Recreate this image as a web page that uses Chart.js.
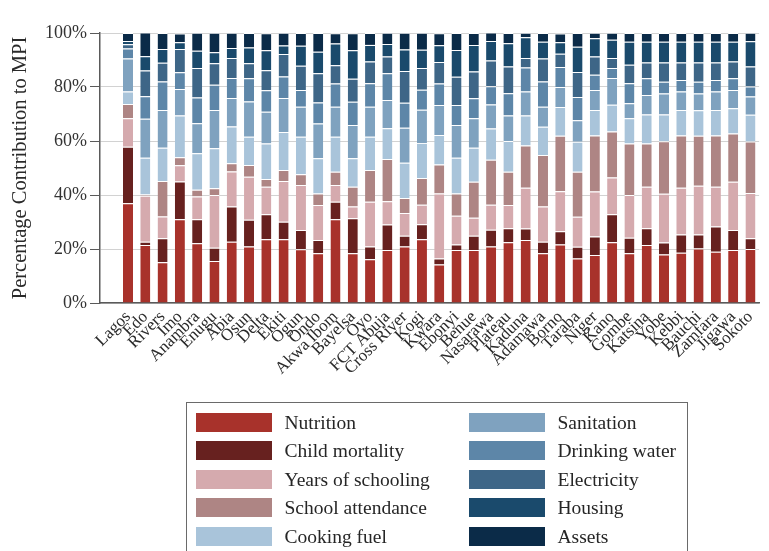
<!DOCTYPE html>
<html>
<head>
<meta charset="utf-8">
<script src="https://cdn.jsdelivr.net/npm/chart.js@4.4.1/dist/chart.umd.min.js"></script>
<style>
html,body{margin:0;padding:0;background:#fff;}
#wrap{position:relative;width:769px;height:551px;overflow:hidden;}
#c{position:absolute;left:0;top:0;}
#legend{position:absolute;left:186px;top:402px;width:502px;height:170px;border:1.5px solid #6a6a6a;box-sizing:border-box;font-family:"Liberation Serif",serif;font-size:19.5px;color:#262626;}
.item{position:absolute;height:19px;line-height:19px;white-space:nowrap;}
.sw{position:absolute;left:0;top:0;width:76px;height:19px;}
.lb{position:absolute;left:89px;top:0;}
</style>
</head>
<body>
<div id="wrap">
<canvas id="c" width="769" height="551"></canvas>
<div id="legend"></div>
</div>
<script>
const states = ["Lagos","Edo","Rivers","Imo","Anambra","Enugu","Abia","Osun","Delta","Ekiti","Ogun","Ondo","Akwa Ibom","Bayelsa","Oyo","FCT Abuja","Cross River","Kogi","Kwara","Ebonyi","Benue","Nasarawa","Plateau","Kaduna","Adamawa","Borno","Taraba","Niger","Kano","Gombe","Katsina","Yobe","Kebbi","Bauchi","Zamfara","Jigawa","Sokoto"];

const seriesNames = ["Nutrition","Child mortality","Years of schooling","School attendance","Cooking fuel","Sanitation","Drinking water","Electricity","Housing","Assets"];

const nutrition     = [36.9,21.5,15.1,31.0,22.1,15.6,22.7,20.9,23.6,23.6,19.9,18.4,31.0,18.4,16.2,19.6,20.9,23.6,14.3,19.6,19.6,20.9,22.5,23.3,18.4,21.7,16.5,17.8,22.5,18.4,21.5,18.0,18.6,20.2,19.0,19.6,20.0];
const childMortality= [21.0,1.2,8.9,14.0,8.9,4.9,13.0,9.9,9.3,6.5,7.1,4.9,6.5,13.0,4.7,9.5,4.0,5.6,2.2,2.1,5.3,6.2,5.2,4.3,4.3,4.9,4.3,6.8,10.4,5.8,6.2,4.4,6.8,5.2,9.3,7.4,4.0];
const yearsSchooling= [10.5,17.0,8.0,6.0,8.4,19.5,13.0,16.0,10.2,15.1,16.7,13.0,6.2,4.3,16.6,8.6,8.4,7.2,24.1,10.6,6.7,9.3,8.6,15.1,13.0,14.8,11.1,16.7,13.6,15.8,15.4,18.1,17.3,18.0,14.8,17.9,16.7];
const schoolAttend  = [5.3,0.5,13.2,3.0,2.5,2.5,3.1,4.3,2.8,4.1,4.0,4.3,4.9,7.4,11.8,15.6,5.6,9.9,10.7,8.3,13.3,16.7,12.3,15.6,19.1,20.5,16.7,20.7,17.0,19.1,16.0,19.4,19.3,18.5,18.9,17.9,19.1];
const cookingFuel   = [4.6,13.6,12.3,15.4,13.6,14.8,13.6,10.5,13.2,14.0,13.9,13.0,13.0,10.5,12.3,11.4,13.0,13.0,10.9,13.2,12.6,11.5,11.4,11.1,10.5,10.7,11.1,9.5,9.9,9.3,10.7,9.9,9.5,9.5,9.5,9.3,9.9];
const sanitation    = [12.3,14.4,14.0,9.9,11.1,14.2,10.5,13.0,11.7,12.6,11.1,12.9,11.1,12.3,11.1,10.5,13.0,12.3,11.1,12.1,10.9,8.9,9.4,8.9,7.4,7.4,8.0,7.4,9.9,5.6,7.2,7.8,6.8,6.2,6.8,6.8,6.8];
const drinkingWater = [3.7,8.4,10.5,6.2,9.5,9.3,7.4,8.6,8.0,8.0,6.2,7.8,8.6,8.6,8.7,9.9,9.3,7.4,8.0,7.4,7.4,6.8,8.3,8.9,9.3,7.4,8.6,5.6,3.7,7.4,6.2,4.3,4.3,4.3,4.3,4.3,3.7];
const electricity   = [1.5,9.5,7.0,8.6,10.9,8.0,7.4,5.6,7.4,8.3,9.0,10.8,6.8,8.6,8.0,6.2,11.7,8.0,8.0,10.5,9.9,9.5,9.9,3.5,8.6,4.9,9.3,6.8,3.7,6.8,5.9,7.2,6.5,7.2,6.5,6.2,7.4];
const housing       = [1.2,5.3,5.1,2.5,6.4,4.1,3.7,5.8,7.4,3.2,7.4,8.0,8.0,10.5,6.2,4.6,8.0,6.8,6.2,9.9,9.9,7.2,8.6,7.7,6.2,4.3,9.3,6.8,6.8,8.6,7.7,7.7,7.7,7.7,7.7,7.4,9.3];
const assets        = [3.0,8.8,5.9,3.2,6.7,7.2,5.7,5.4,6.3,4.7,4.7,6.9,3.8,6.3,4.4,4.2,6.2,6.3,4.4,6.3,4.4,3.2,3.8,1.7,3.2,3.2,5.1,2.0,2.6,3.2,3.2,3.2,3.2,3.2,3.2,3.2,3.2];

const yTickValues = [0,20,40,60,80,100];

const seriesValues = [nutrition,childMortality,yearsSchooling,schoolAttend,cookingFuel,sanitation,drinkingWater,electricity,housing,assets];
const colors = ["#a8322b","#67211f","#d5aaae","#ae8584","#a9c4da","#7fa2bf","#5d86a8","#3e6687","#1a4a6c","#0b2b48"];

const datasets = seriesNames.map((name, k) => ({
  label: name,
  data: seriesValues[k].map((v, i) => ({x: i, y: v})),
  backgroundColor: colors[k],
  borderColor: "#ffffff",
  borderWidth: {top: 1, right: 0, bottom: 0, left: 0},
  borderSkipped: false,
  stack: "s"
}));

const serif = "'Liberation Serif', 'DejaVu Serif', serif";

new Chart(document.getElementById("c"), {
  type: "bar",
  data: {datasets},
  options: {
    responsive: false,
    animation: false,
    layout: {padding: {top: 33, right: 9, left: 0, bottom: 0}},
    plugins: {legend: {display: false}, tooltip: {enabled: false}},
    datasets: {bar: {categoryPercentage: 1, barPercentage: 0.58}},
    scales: {
      x: {
        type: "linear",
        stacked: true,
        min: -1.62,
        max: 36.5,
        offset: false,
        grid: {display: false, drawTicks: false},
        border: {display: true, color: "#5a5a5a", width: 1.5},
        afterBuildTicks: s => { s.ticks = states.map((_, i) => ({value: i})); },
        afterFit: s => { s.height = 551 - 303; },
        ticks: {
          autoSkip: false,
          minRotation: 45,
          maxRotation: 45,
          padding: 4,
          color: "#2a2a2a",
          font: {family: serif, size: 17},
          callback: v => states[v] !== undefined ? states[v] : ""
        }
      },
      y: {
        stacked: true,
        min: 0,
        max: 100,
        afterBuildTicks: s => { s.ticks = yTickValues.map(v => ({value: v})); },
        afterFit: s => { s.width = 100; },
        ticks: {
          color: "#333",
          padding: 3,
          font: {family: serif, size: 18},
          callback: v => v + "%"
        },
        grid: {color: "#d2d2d2", tickColor: "#5a5a5a", tickLength: 10, lineWidth: 1},
        border: {color: "#5a5a5a", width: 1.5},
        title: {
          display: true,
          text: "Percentage Contribution to MPI",
          color: "#2a2a2a",
          font: {family: serif, size: 20.5},
          padding: {top: 8, bottom: 0}
        }
      }
    }
  }
});

const legend = document.getElementById("legend");
seriesNames.forEach((name, k) => {
  const col = Math.floor(k / 5), row = k % 5;
  const it = document.createElement("div");
  it.className = "item";
  it.style.left = (col === 0 ? 8.5 : 281.5) + "px";
  it.style.top = (9.5 + row * 28.5) + "px";
  const sw = document.createElement("div");
  sw.className = "sw";
  sw.style.background = colors[k];
  const lb = document.createElement("div");
  lb.className = "lb";
  lb.textContent = name;
  it.appendChild(sw); it.appendChild(lb);
  legend.appendChild(it);
});
</script>
</body>
</html>
